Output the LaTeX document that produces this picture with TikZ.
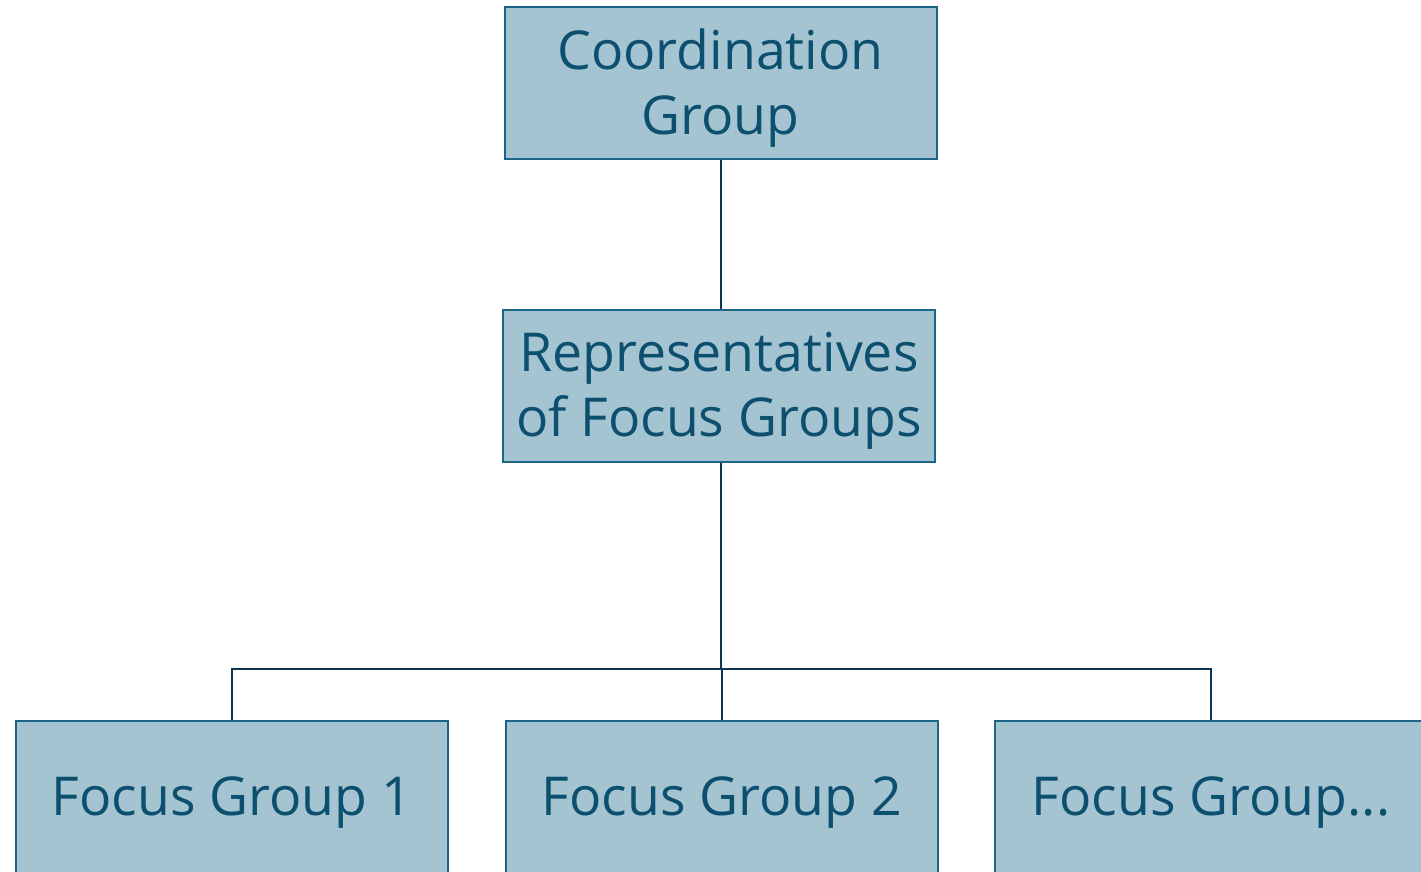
\documentclass[tikz,border=0pt]{standalone}
\usepackage{fontspec}
\setmainfont{Open Sans}
\usetikzlibrary{positioning}
\definecolor{boxfill}{HTML}{A5C4D2}
\definecolor{boxline}{HTML}{1D6489}
\definecolor{boxtext}{HTML}{0D4F6E}
\definecolor{wire}{HTML}{0B3550}

\begin{document}
\begin{tikzpicture}[x=0.5pt, y=-0.5pt,
	groupbox/.style={draw=boxline, line width=1pt, fill=boxfill, text=boxtext,
		minimum width=216pt, minimum height=76pt, align=center, inner sep=0pt,
		text depth=1pt, font=\fontsize{26.8}{32.5}\selectfont},
	wire/.style={draw=wire, line width=1.2pt}]
		%%%%% START %%%%%
		
		\useasboundingbox (0, 0) rectangle (1421, 872);
		\clip (0, 0) rectangle (1421, 872);
		
		\node[groupbox] (coord) at (720.5, 83) {Coordination\\Group};
		\node[groupbox] (rep) at (719, 385.5) {Representatives\\of Focus Groups};
		
		\node[groupbox] (fg1) at (232, 797) {Focus Group 1};
		\node[groupbox] (fg2) at (722, 797) {Focus Group 2};
		\node[groupbox] (fg3) at (1211, 797) {Focus Group...};
		
		\coordinate (bus) at (721, 669);
		
		\draw[wire] (coord.south -| bus) -- (rep.north -| bus);
		\draw[wire] (rep.south -| bus) -- (bus);
		\draw[wire] (fg1.north) |- (bus) -| (fg3.north);
		\draw[wire] (fg2.north) -- (fg2.north |- bus);
		
		%%%%% END %%%%%
	\end{tikzpicture}
\end{document}
